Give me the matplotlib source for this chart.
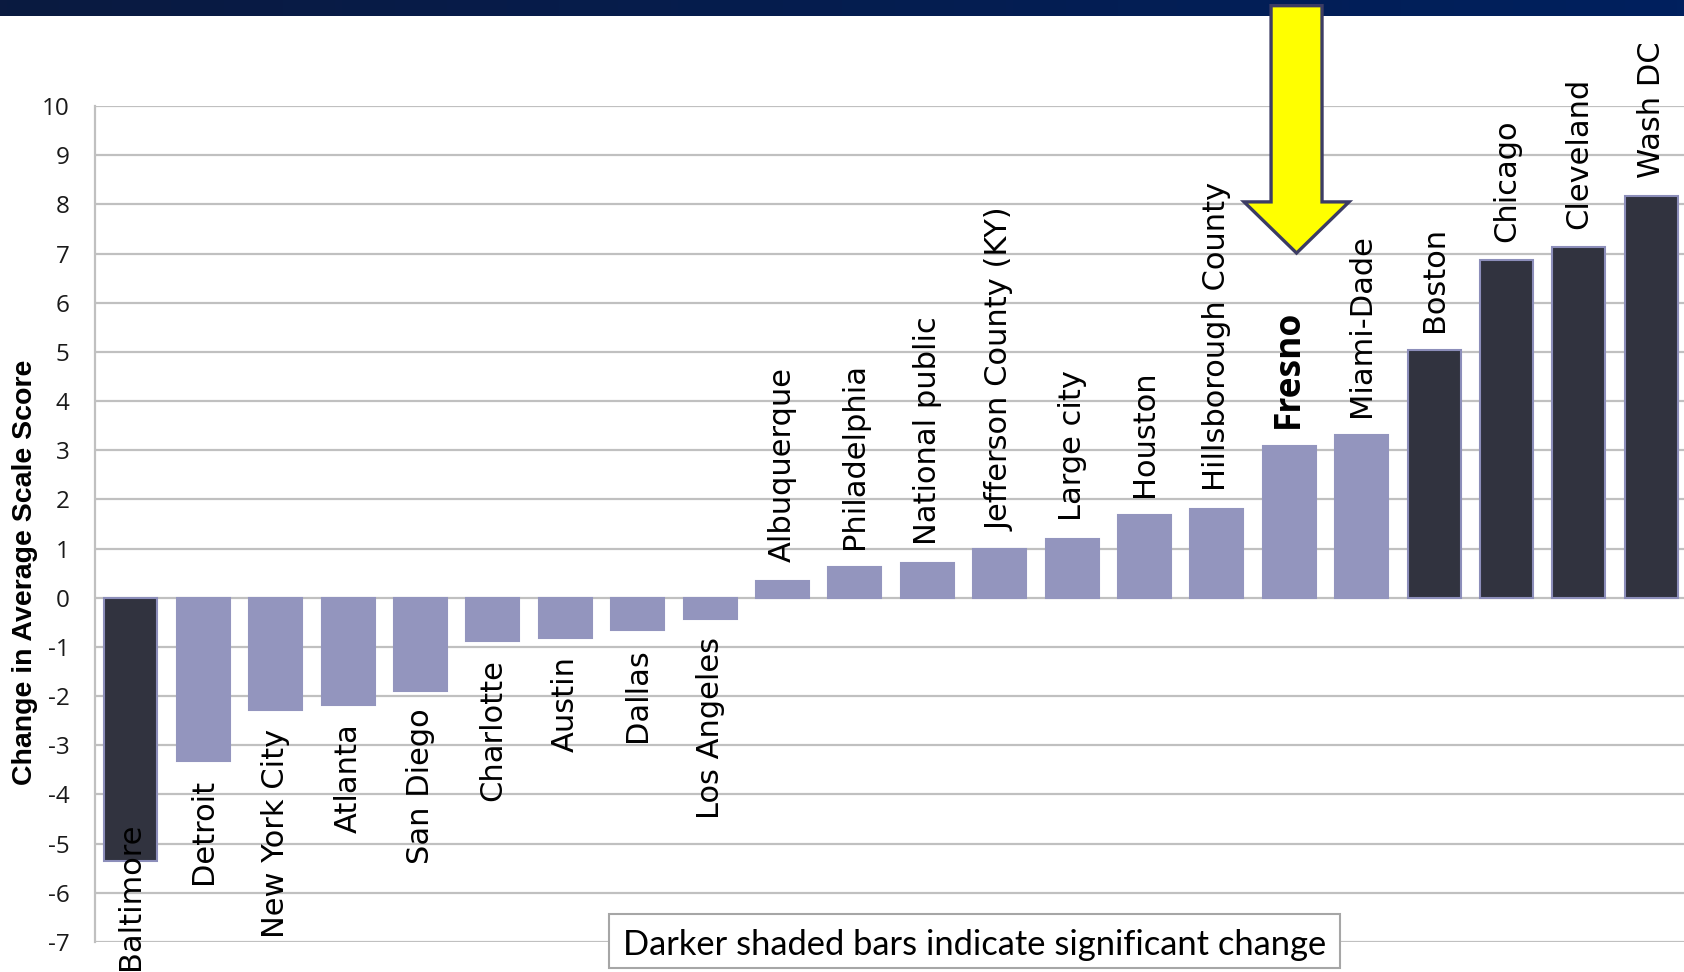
import matplotlib
matplotlib.use("Agg")
import matplotlib.pyplot as plt
import numpy as np
from matplotlib.patches import Polygon, Rectangle
from matplotlib.colors import LinearSegmentedColormap

# ---------------- data ----------------
categories = ["Baltimore", "Detroit", "New York City", "Atlanta", "San Diego",
              "Charlotte", "Austin", "Dallas", "Los Angeles", "Albuquerque",
              "Philadelphia", "National public", "Jefferson County (KY)",
              "Large city", "Houston", "Hillsborough County", "Fresno",
              "Miami-Dade", "Boston", "Chicago", "Cleveland", "Wash DC"]
values = [-5.35, -3.31, -2.29, -2.19, -1.89, -0.88, -0.82, -0.65, -0.43,
          0.35, 0.62, 0.70, 1.00, 1.19, 1.68, 1.80, 3.09, 3.30, 5.04, 6.87,
          7.13, 8.16]
significant = [True, False, False, False, False, False, False, False, False,
               False, False, False, False, False, False, False, False, False,
               True, True, True, True]
highlight = "Fresno"
y_ticks = list(range(-7, 11))
y_label = "Change in Average Scale Score"
note = "Darker shaded bars indicate significant change"

# ---------------- style ----------------
W, H = 1684, 972
LIGHT = "#9395BE"
DARK = "#31333F"
DARK_EDGE = "#8C8EBA"
GRID = "#C0C0C0"

fig = plt.figure(figsize=(W / 100, H / 100), dpi=100)

# top navy band with gradient
band = fig.add_axes([0, 1 - 16 / H, 1, 16 / H])
grad = np.linspace(0, 1, 256).reshape(1, -1)
cmap = LinearSegmentedColormap.from_list("band", ["#0A1A40", "#00205E"])
band.imshow(grad, aspect="auto", cmap=cmap, extent=[0, 1, 0, 1])
band.set_axis_off()

left = 94.7 / W
right = 1687.5 / W
bottom = (H - 942) / H
top = (H - 106) / H
ax = fig.add_axes([left, bottom, right - left, top - bottom])
ax.set_zorder(2)
ax.patch.set_alpha(0)

x = np.arange(len(categories))
colors = [DARK if s else LIGHT for s in significant]
edges = [DARK_EDGE if s else LIGHT for s in significant]
ax.bar(x, values, width=0.73, color=colors, edgecolor=edges, linewidth=1.5,
       zorder=3)

ax.set_xlim(-0.5, len(categories) - 0.5)
ax.set_ylim(min(y_ticks), max(y_ticks))
ax.set_yticks(y_ticks)
ax.set_yticklabels([str(v) for v in y_ticks], fontfamily="Open Sans",
                   fontsize=17.5, color="#1a1a1a")
ax.set_xticks([])
ax.tick_params(axis="y", length=0, pad=18)
ax.yaxis.grid(True, color=GRID, linewidth=1.6, zorder=0)
ax.set_axisbelow(True)
for s in ["top", "right", "bottom"]:
    ax.spines[s].set_visible(False)
ax.spines["left"].set_color(GRID)
ax.spines["left"].set_linewidth(1.6)

# category labels at bar ends
labels = []
for xi, cat, v in zip(x, categories, values):
    off = 13 if v >= 0 else -13
    kw = dict(fontfamily="DejaVu Sans", fontsize=22)
    if cat == highlight:
        kw = dict(fontfamily="Open Sans", fontsize=25.5, fontweight="bold")
    t = ax.annotate(cat, xy=(xi, v), xytext=(0, off), textcoords="offset points",
                    rotation=90, ha="center",
                    va="bottom" if v >= 0 else "top", color="black",
                    annotation_clip=False, zorder=6, **kw)
    labels.append(t)

# yellow arrow pointing at highlighted bar
hi = categories.index(highlight)
ax_c = hi + 0.10
shaft, head = 0.352, 0.725
tip_y, wing_y, top_y = 7.01, 8.05, 12.04
arrow = Polygon([(ax_c - shaft, top_y), (ax_c + shaft, top_y),
                 (ax_c + shaft, wing_y), (ax_c + head, wing_y),
                 (ax_c, tip_y), (ax_c - head, wing_y),
                 (ax_c - shaft, wing_y)], closed=True,
                facecolor="#FFFF00", edgecolor="#3C3C64", linewidth=2.4,
                joinstyle="miter", clip_on=False, zorder=7)
ax.add_patch(arrow)

# y label
fig.text(25 / W, 1 - 572 / H, y_label, rotation=90, ha="center", va="center",
         fontfamily="Liberation Sans", fontweight="bold", fontsize=20.5,
         color="black")

# note box
box = Rectangle((609 / W, (H - 968) / H), 731 / W, 54 / H,
                transform=fig.transFigure, facecolor="white",
                edgecolor="#A6A6A6", linewidth=1.5, zorder=5)
fig.patches.append(box)
fig.text(975 / W, 1 - 945 / H, note, ha="center", va="center",
         fontfamily="Lato", fontsize=24.8, color="black", zorder=6)

# keep labels inside the figure (clamp to bottom edge)
fig.canvas.draw()
renderer = fig.canvas.get_renderer()
for t in labels:
    bb = t.get_window_extent(renderer)
    if bb.y0 < 2:
        dx, dy = t.xyann
        t.xyann = (dx, dy + (2 - bb.y0) * 72 / fig.dpi)

fig.savefig("out.png", dpi=100)
